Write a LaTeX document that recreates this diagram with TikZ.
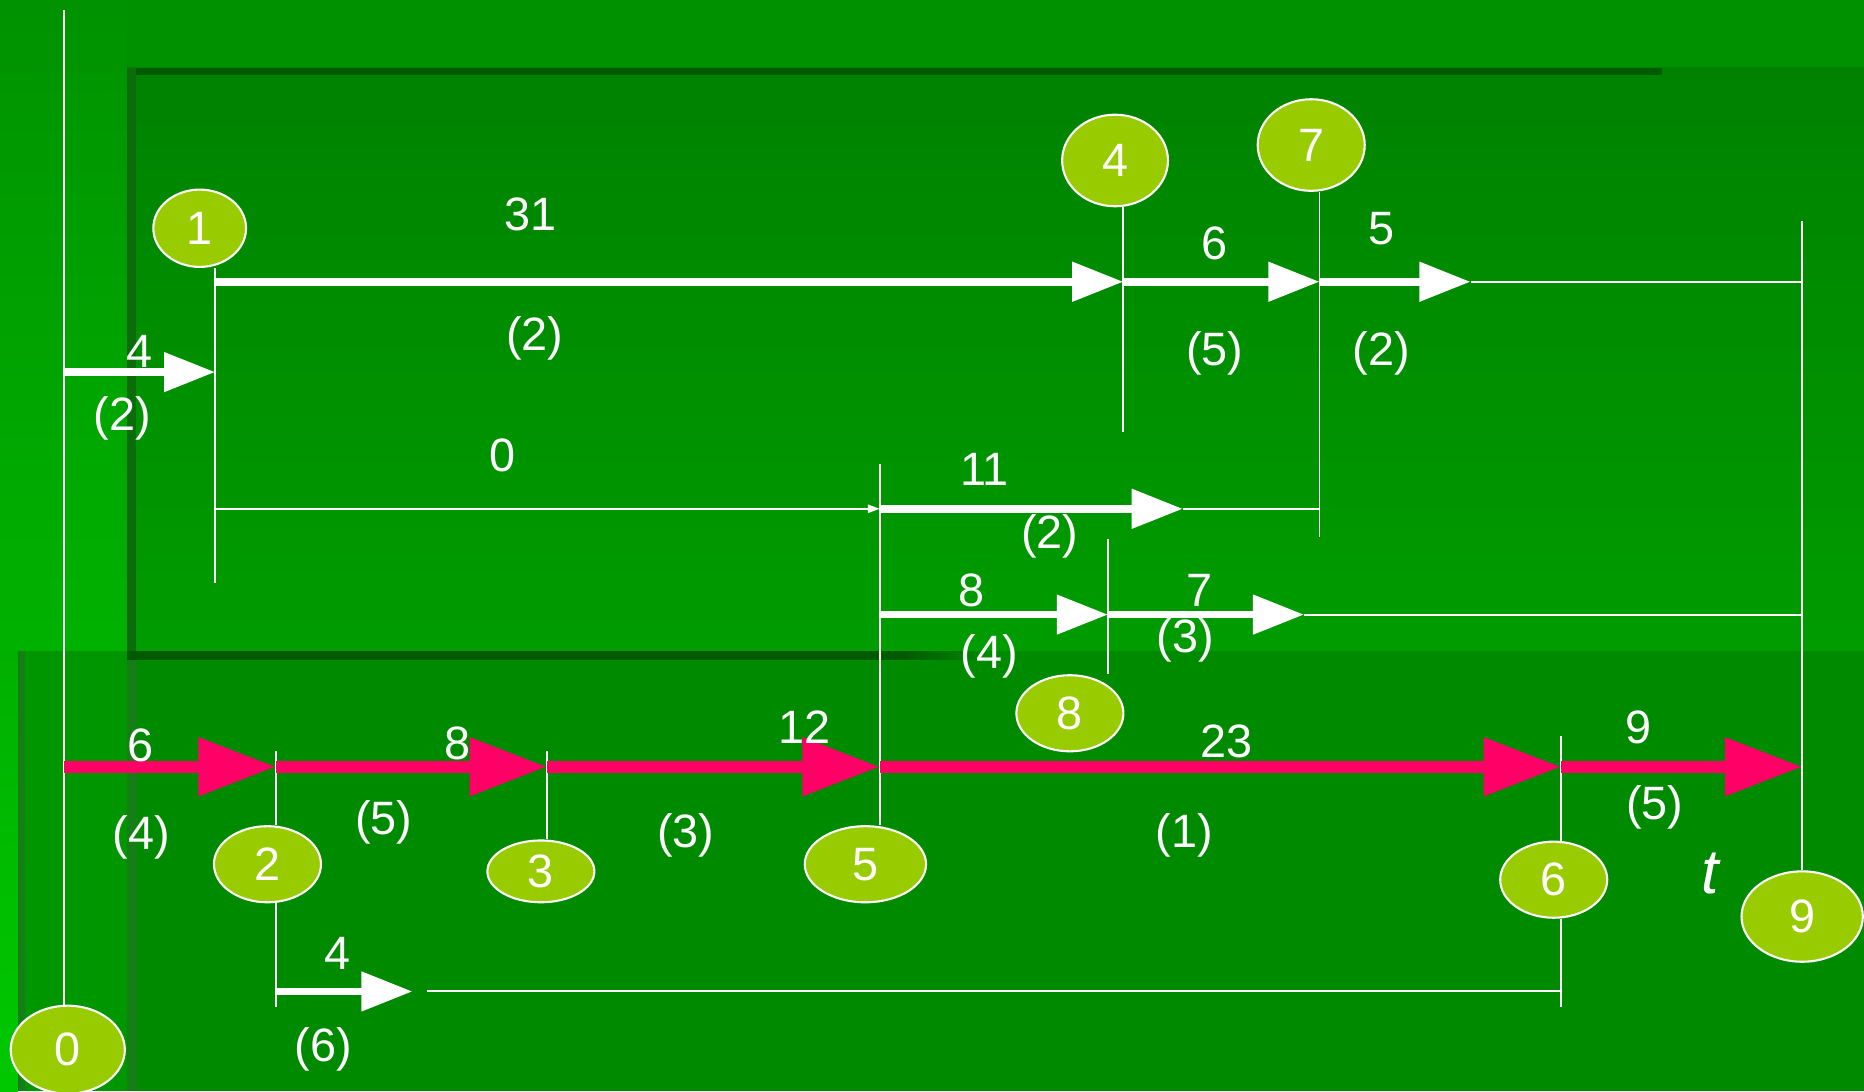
\documentclass[tikz,border=0pt]{standalone}
\usepackage{fontspec}
\setmainfont{Liberation Sans}
\usetikzlibrary{shapes.geometric,arrows.meta}
\definecolor{bgtop}{RGB}{0,145,0}
\definecolor{stripT}{RGB}{0,146,0}
\definecolor{stripB}{RGB}{0,178,0}
\definecolor{panT}{RGB}{0,130,0}
\definecolor{panB}{RGB}{0,156,0}
\definecolor{lowpan}{RGB}{0,138,0}
\definecolor{lowleft}{RGB}{0,150,0}
\definecolor{edgeT}{RGB}{0,176,0}
\definecolor{edgeB}{RGB}{0,200,0}
\definecolor{shadowdark}{RGB}{0,90,0}
\definecolor{shadowleft}{RGB}{12,108,12}
\definecolor{shadowlow}{RGB}{22,126,22}
\definecolor{evgreen}{RGB}{153,204,0}
\definecolor{critred}{RGB}{255,0,102}
\newcommand\lblfont{\fontsize{11.2}{13}\selectfont}
\tikzset{
  ev/.style={ellipse, draw=white, line width=0.5pt, fill=evgreen, text=white, inner sep=0pt, font=\lblfont},
  lab/.style={text=white, inner sep=0pt, font=\lblfont},
  thinline/.style={draw=white, line width=0.45pt},
  warrow/.style={draw=white, line width=1.85pt, -{Triangle[length=0.43cm,width=0.32cm]}},
  sarrow/.style={draw=white, line width=0.45pt, -{Triangle[length=0.1cm,width=0.07cm]}},
  rarrow/.style={draw=critred, line width=2.8pt, -{Triangle[length=0.65cm,width=0.47cm]}}
}
\begin{document}
\begin{tikzpicture}[x=0.01cm,y=-0.01cm]
\useasboundingbox (0,0) rectangle (1568,918);
% ---------- background ----------
\fill[bgtop] (0,0) rectangle (1568,918);
\shade[top color=stripT, bottom color=stripB] (0,0) rectangle (107,548);
\shade[top color=panT, bottom color=panB] (107,57) rectangle (1568,548);
\shade[top color=edgeT, bottom color=edgeB] (0,548) rectangle (15,918);
\fill[lowleft] (15,548) rectangle (107,918);
\fill[lowpan] (107,548) rectangle (1568,918);
\fill[shadowdark] (107,57) rectangle (1398,63);
\fill[shadowleft] (107,57) rectangle (114,548);
\fill[shadowlow] (107,548) rectangle (115,918);
\fill[shadowdark] (107,548) rectangle (760,555);
\shade[left color=shadowdark, right color=lowpan] (760,548) rectangle (830,555);
\fill[shadowlow] (15,548) rectangle (21,918);
% ---------- events ----------
\node[ev, minimum width=0.96cm, minimum height=0.74cm] (n0) at (57,883) {0};
\node[ev, minimum width=0.78cm, minimum height=0.65cm] (n1) at (168,192) {1};
\node[ev, minimum width=0.90cm, minimum height=0.64cm] (n2) at (225,727) {2};
\node[ev, minimum width=0.90cm, minimum height=0.52cm] (n3) at (455,733) {3};
\node[ev, minimum width=0.89cm, minimum height=0.77cm] (n4) at (938,135) {4};
\node[ev, minimum width=1.02cm, minimum height=0.64cm] (n5) at (728,727) {5};
\node[ev, minimum width=0.90cm, minimum height=0.64cm] (n6) at (1307,740) {6};
\node[ev, minimum width=0.90cm, minimum height=0.77cm] (n7) at (1103,122) {7};
\node[ev, minimum width=0.90cm, minimum height=0.64cm] (n8) at (900,600) {8};
\node[ev, minimum width=1.02cm, minimum height=0.76cm] (n9) at (1516,771) {9};
% ---------- coordinates ----------
\coordinate (a1) at (181,237); \coordinate (a4) at (945,237);
\coordinate (a7) at (1110,237); \coordinate (ae) at (1237,237); \coordinate (a9) at (1516,237);
\coordinate (b0) at (54,313); \coordinate (b1) at (181,313);
\coordinate (c1) at (181,428); \coordinate (c5) at (740,428);
\coordinate (ce) at (995,428); \coordinate (c7) at (1110,428);
\coordinate (d5) at (740,517); \coordinate (d8) at (932,517);
\coordinate (de) at (1097,517); \coordinate (d9) at (1516,517);
\coordinate (e0) at (54,645); \coordinate (e2) at (232,645); \coordinate (e3) at (460,645);
\coordinate (e5) at (740,645); \coordinate (e6) at (1313,645); \coordinate (e9) at (1516,645);
\coordinate (f2) at (232,834); \coordinate (fe) at (347,834);
\coordinate (fs) at (359,834); \coordinate (f6) at (1313,834);
\coordinate (v0t) at (54,8);
\coordinate (v1b) at (181,490);
\coordinate (v4b) at (945,363);
\coordinate (v7b) at (1110,452);
\coordinate (v9t) at (1516,186);
\coordinate (v5t) at (740,390);
\coordinate (v8t) at (932,453);
\coordinate (v2t) at (232,632); \coordinate (v2b) at (232,847);
\coordinate (v3t) at (460,632);
\coordinate (v6t) at (1313,619); \coordinate (v6b) at (1313,847);
% ---------- vertical time lines ----------
\draw[thinline] (v0t) -- (v0t |- n0.north);
\draw[thinline] (v1b |- n1.south) -- (v1b);
\draw[thinline] (n4.south -| v4b) -- (v4b);
\draw[thinline] (n7.south -| v7b) -- (v7b);
\draw[thinline] (v9t) -- (v9t |- n9.north);
\draw[thinline] (v5t) -- (v5t |- n5.north);
\draw[thinline] (v8t) -- (v8t |- n8.north);
\draw[thinline] (v2t) -- (v2t |- n2.north);
\draw[thinline] (n2.south -| v2b) -- (v2b);
\draw[thinline] (v3t) -- (v3t |- n3.north);
\draw[thinline] (v6t) -- (v6t |- n6.north);
\draw[thinline] (n6.south -| v6b) -- (v6b);
% ---------- horizontal thin lines ----------
\draw[thinline] (ae) -- (a9);
\draw[sarrow] (c1) -- (c5);
\draw[thinline] (ce) -- (c7);
\draw[thinline] (de) -- (d9);
\draw[thinline] (fs) -- (f6);
% ---------- white activity arrows ----------
\draw[warrow] (a1) -- (a4);
\draw[warrow] (a4) -- (a7);
\draw[warrow] (a7) -- (ae);
\draw[warrow] (b0) -- (b1);
\draw[warrow] (c5) -- (ce);
\draw[warrow] (d5) -- (d8);
\draw[warrow] (d8) -- (de);
\draw[warrow] (f2) -- (fe);
% ---------- critical path ----------
\draw[rarrow] (e0) -- (e2);
\draw[rarrow] (e2) -- (e3);
\draw[rarrow] (e3) -- (e5);
\draw[rarrow] (e5) -- (e6);
\draw[rarrow] (e6) -- (e9);
% ---------- labels ----------
\node[lab] (l31) at (446,180) {31};
\node[lab] (l31b) at (450,285) {(2)};
\node[lab] (l4a) at (117,296) {4};
\node[lab] (l4ab) at (103,352) {(2)};
\node[lab] (l0) at (423,383) {0};
\node[lab] (l6a) at (1022,205) {6};
\node[lab] (l6ab) at (1022,297) {(5)};
\node[lab] (l5a) at (1162,192) {5};
\node[lab] (l5ab) at (1162,297) {(2)};
\node[lab] (l11) at (828,395) {11};
\node[lab] (l11b) at (883,451) {(2)};
\node[lab] (l8a) at (817,497) {8};
\node[lab] (l8ab) at (832,552) {(4)};
\node[lab] (l7a) at (1009,497) {7};
\node[lab] (l7ab) at (997,539) {(3)};
\node[lab] (l6r) at (118,627) {6};
\node[lab] (l6rb) at (119,704) {(4)};
\node[lab] (l8r) at (385,625) {8};
\node[lab] (l8rb) at (323,692) {(5)};
\node[lab] (l12) at (677,612) {12};
\node[lab] (l12b) at (577,703) {(3)};
\node[lab] (l23) at (1032,624) {23};
\node[lab] (l23b) at (996,703) {(1)};
\node[lab] (l9r) at (1378,612) {9};
\node[lab] (l9rb) at (1392,679) {(5)};
\node[lab] (l4f) at (284,802) {4};
\node[lab] (l4fb) at (272,883) {(6)};
\node[text=white, inner sep=0pt, font=\fontsize{15}{17}\selectfont\itshape] (lt) at (1439,735) {t};
\end{tikzpicture}
\end{document}
